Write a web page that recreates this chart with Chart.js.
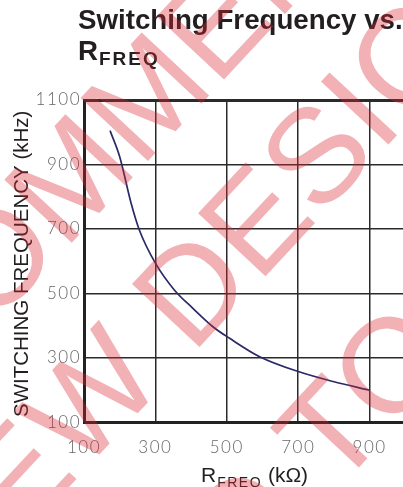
<!DOCTYPE html>
<html>
<head>
<meta charset="utf-8">
<script src="https://cdn.jsdelivr.net/npm/chart.js@4/dist/chart.umd.min.js"></script>
<style>
  html, body { margin: 0; padding: 0; background: #fff; overflow: hidden; width: 403px; height: 487px; }
  #c { position: absolute; left: 0; top: 0; width: 460px; height: 487px; }
</style>
</head>
<body>
<canvas id="c" width="460" height="487"></canvas>
<script>
// ---- data ----
const rfreqK = [173, 200, 232, 255, 300, 353, 405, 461, 508, 592, 700, 798, 900];
const fswKHz = [1005, 924, 780, 697, 594, 511, 454, 397, 361, 304, 258, 227, 200];
const xTicks = [100, 300, 500, 700, 900, 1100];
const yTicks = [100, 300, 500, 700, 900, 1100];
const titleMain = 'Switching Frequency vs.';
const titleSubBase = 'R';
const titleSub = 'FREQ';
const yTitle = 'SWITCHING FREQUENCY (kHz)';
const xTitleBase = 'R';
const xTitleSub = 'FREQ';
const xTitleUnit = ' (kΩ)';
const watermarkLines = ['NOT RECOMMENDED FOR', 'NEW DESIGNS', 'PLEASE GO TO'];

const SANS = '"Liberation Sans", Arial, sans-serif';
const TICKFONT = 'Lato, "Liberation Sans", sans-serif';

const textPlugin = {
  id: 'texts',
  beforeDraw(chart) {
    chart.ctx.letterSpacing = '1.5px';
  },
  afterDraw(chart) {
    const ctx = chart.ctx;
    ctx.save();
    ctx.letterSpacing = '0px';
    ctx.fillStyle = '#231f20';
    ctx.textAlign = 'left';
    ctx.textBaseline = 'alphabetic';
    // title
    ctx.font = 'bold 27.7px ' + SANS;
    ctx.fillText(titleMain, 78, 29);
    ctx.fillText(titleSubBase, 78, 60);
    let w = ctx.measureText(titleSubBase).width;
    ctx.font = 'bold 19px ' + SANS;
    ctx.letterSpacing = '2px';
    ctx.fillText(titleSub, 78 + w + 1, 65);
    ctx.letterSpacing = '0px';
    // x title
    ctx.font = '21px ' + SANS;
    let x0 = 201;
    ctx.fillText(xTitleBase, x0, 482);
    x0 += ctx.measureText(xTitleBase).width + 1;
    ctx.font = '14px ' + SANS;
    ctx.letterSpacing = '1.5px';
    ctx.fillText(xTitleSub, x0, 487);
    x0 += ctx.measureText(xTitleSub).width;
    ctx.letterSpacing = '0px';
    ctx.font = '21px ' + SANS;
    ctx.fillText(xTitleUnit, x0, 482);
    // y title
    ctx.save();
    ctx.translate(28, 417);
    ctx.rotate(-Math.PI / 2);
    ctx.font = '20.5px ' + SANS;
    ctx.fillText(yTitle, 0, 0);
    ctx.restore();

    // watermark
    ctx.font = '134px ' + SANS;
    ctx.fillStyle = 'rgba(220, 40, 50, 0.36)';
    const capH = 134 * 0.716;
    const ang = -47 * Math.PI / 180;
    const place = (text, idx, cx, cy) => {
      ctx.save();
      ctx.translate(cx, cy);
      ctx.rotate(ang);
      const pre = ctx.measureText(text.slice(0, idx)).width;
      const cw = ctx.measureText(text[idx]).width;
      ctx.fillText(text, -pre - cw / 2, capH / 2);
      ctx.restore();
    };
    place(watermarkLines[0], 10, 212, 22);
    place(watermarkLines[1], 4, 190, 287);
    place(watermarkLines[2], 10, 328, 430);
    ctx.restore();
  }
};

new Chart(document.getElementById('c'), {
  type: 'line',
  data: {
    datasets: [{
      data: rfreqK.map((x, i) => ({ x: x, y: fswKHz[i] })),
      borderColor: '#2b2966',
      borderWidth: 1.7,
      pointRadius: 0,
      fill: false,
      cubicInterpolationMode: 'monotone'
    }]
  },
  options: {
    responsive: false,
    maintainAspectRatio: false,
    animation: false,
    devicePixelRatio: 1,
    layout: { autoPadding: false, padding: { top: 100, right: 19, left: 0, bottom: 0 } },
    plugins: { legend: { display: false }, tooltip: { enabled: false }, title: { display: false } },
    scales: {
      x: {
        type: 'linear', min: 100, max: 1100,
        afterFit: s => { s.height = 64.5; s.paddingLeft = 0; s.paddingRight = 0; },
        afterBuildTicks: s => { s.ticks = xTicks.map(v => ({ value: v })); },
        ticks: { color: '#666', font: { family: TICKFONT, size: 17, weight: '300' }, padding: 15, maxRotation: 0, autoSkip: false, callback: v => String(v) },
        grid: { color: '#2a2a2a', lineWidth: c => (c.tick && c.tick.value === 1100 ? 3 : 1.5), drawTicks: false },
        border: { color: '#222', width: 3 }
      },
      y: {
        type: 'linear', min: 100, max: 1100,
        afterFit: s => { s.width = 84; s.paddingTop = 0; s.paddingBottom = 0; },
        afterBuildTicks: s => { s.ticks = yTicks.map(v => ({ value: v })); },
        ticks: { color: '#666', font: { family: TICKFONT, size: 17, weight: '300' }, padding: 3, autoSkip: false, callback: v => String(v) },
        grid: { color: '#2a2a2a', lineWidth: c => (c.tick && c.tick.value === 1100 ? 3 : 1.5), drawTicks: false },
        border: { color: '#222', width: 3 }
      }
    }
  },
  plugins: [textPlugin]
});
</script>
</body>
</html>
